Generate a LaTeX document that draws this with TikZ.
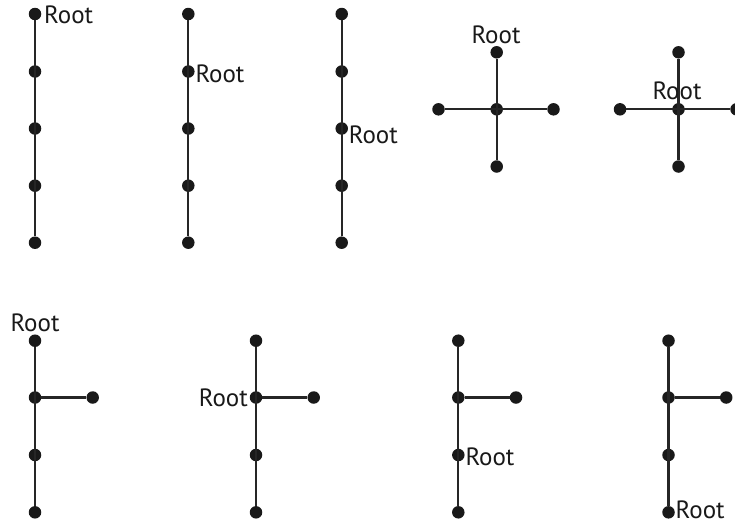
\documentclass[tikz,border=0pt]{standalone}
\usepackage{fontspec}
\setmainfont{PT Sans}
\begin{document}
\begin{tikzpicture}[x=1pt,y=-1pt,
  dot/.style={circle,fill=black!90,inner sep=0pt,minimum size=12.5pt},
  edge/.style={line width=2.3pt,draw=black!85},
  lbl/.style={font=\fontsize{25}{28}\selectfont,inner sep=0pt,text=black!90}]
\useasboundingbox (0,0) rectangle (735,525);
% top row vertical chains
\foreach \c/\x in {a/35,b/188.3,c/341.7}{
  \foreach \i/\y in {1/14,2/71.5,3/128.5,4/185.7,5/242.7}{
    \node[dot] (\c\i) at (\x,\y) {};
  }
  \draw[edge] (\c1) -- (\c5);
}
\node[lbl,anchor=west] at ([xshift=9pt,yshift=-1pt]a1.center) {Root};
\node[lbl,anchor=west] at ([xshift=7pt,yshift=-2pt]b2.center) {Root};
\node[lbl,anchor=west] at ([xshift=7pt,yshift=-6pt]c3.center) {Root};
% crosses
\node[dot] (dc) at (496.7,109.3) {};
\node[dot] (dl) at (438.5,109.3) {};
\node[dot] (dr) at (553.5,109.3) {};
\node[dot] (dt) at (496.7,52.3) {};
\node[dot] (db) at (496.7,166.5) {};
\draw[edge] (dl) -- (dr);
\draw[edge] (dt) -- (db);
\node[lbl] at (496,35) {Root};
\node[dot] (ec) at (678.5,109.3) {};
\node[dot] (el) at (620,109.3) {};
\node[dot] (er) at (736.5,109.3) {};
\node[dot] (et) at (678.5,52.3) {};
\node[dot] (eb) at (678.5,166.5) {};
\draw[edge] (el) -- (er);
\draw[edge] (et) -- (eb);
\node[lbl] at (677,91) {Root};
% bottom row
\foreach \c/\x in {f/35,g/256,h/458.3,k/668.5}{
  \foreach \i/\y in {1/340.7,2/397.5,3/455,4/512.3}{
    \node[dot] (\c\i) at (\x,\y) {};
  }
  \node[dot] (\c b) at (\x+57.7,397.5) {};
  \draw[edge] (\c1) -- (\c4);
  \draw[edge] (\c2) -- (\c b);
}
\node[lbl] at (35,323) {Root};
\node[lbl,anchor=east] at ([xshift=-8pt,yshift=0pt]g2.center) {Root};
\node[lbl,anchor=west] at ([xshift=7pt,yshift=-2pt]h3.center) {Root};
\node[lbl,anchor=base west] at ([xshift=7pt,yshift=-6.5pt]k4.center) {Root};
\end{tikzpicture}
\end{document}
